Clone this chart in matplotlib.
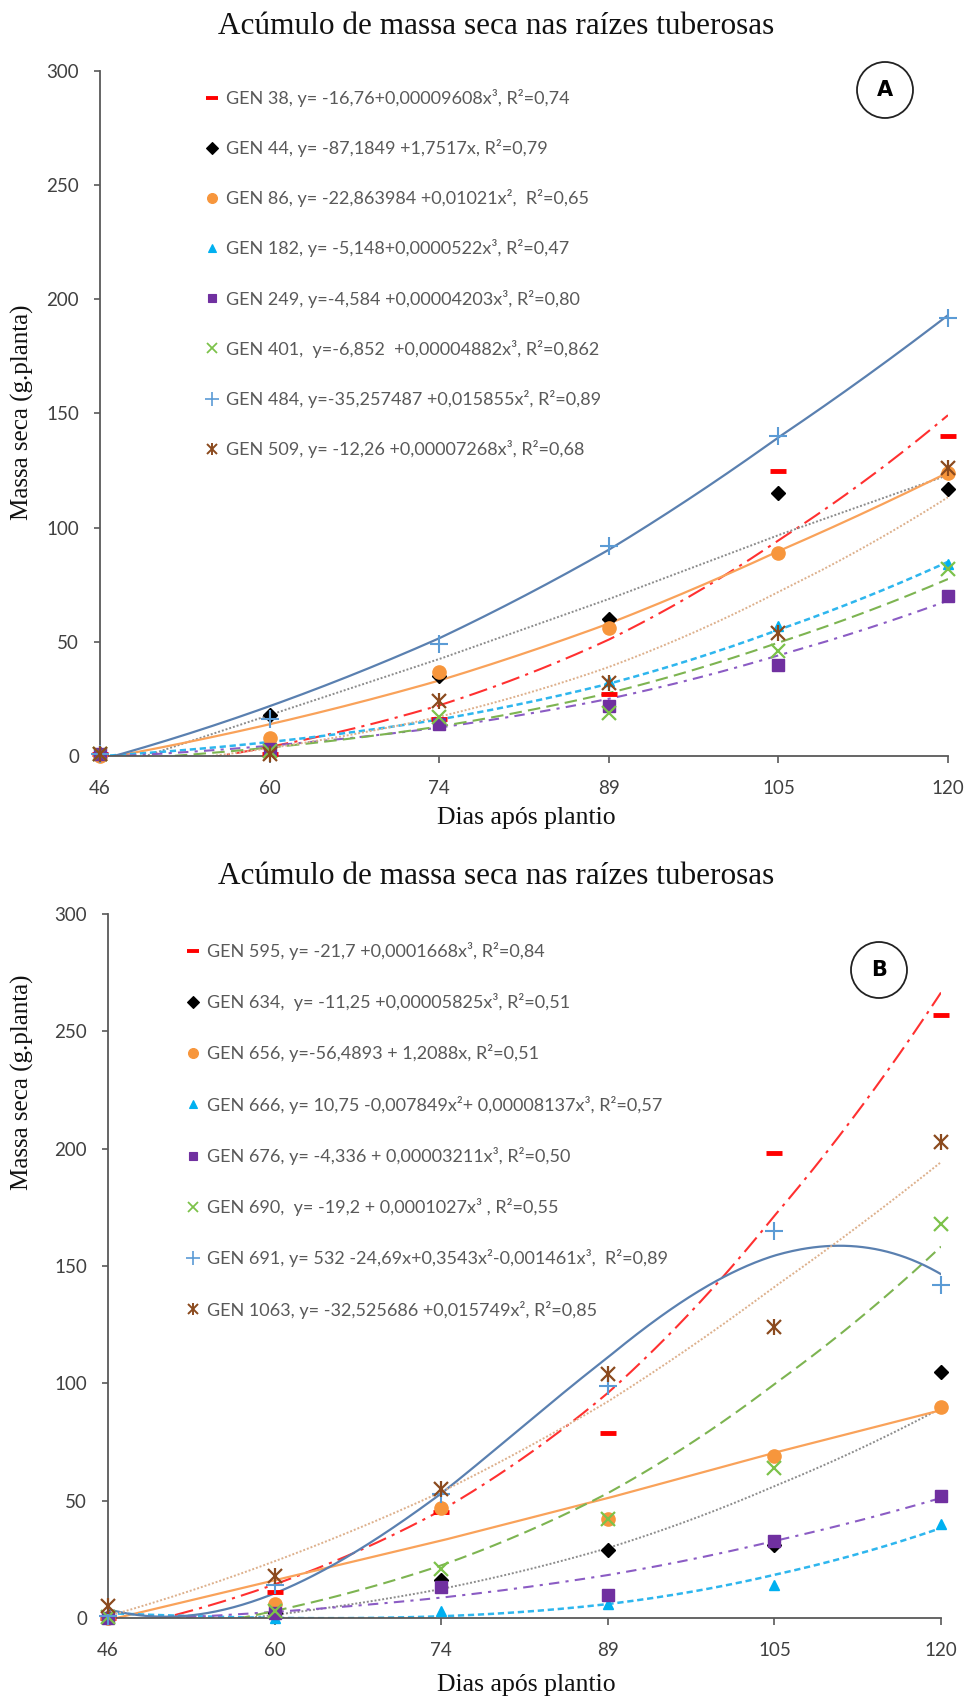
import numpy as np
import matplotlib
matplotlib.use("Agg")
import matplotlib.pyplot as plt
from matplotlib.lines import Line2D
from matplotlib.patches import Circle

plt.rcParams["font.family"] = ["Lato", "DejaVu Sans"]

# ---------------------------------------------------------------
# Data
# ---------------------------------------------------------------
days = [46, 60, 74, 89, 105, 120]
yticks = [0, 50, 100, 150, 200, 250, 300]
title = "Acúmulo de massa seca nas raízes tuberosas"

# Panel A: observed means (g/planta)
a_gen38 = [1, 1, 16, 27, 125, 140]
a_gen44 = [1, 18, 35, 60, 115, 117]
a_gen86 = [0, 8, 37, 56, 89, 124]
a_gen182 = [1.5, 3, 15, 33, 57, 84]
a_gen249 = [1, 3, 14, 22, 40, 70]
a_gen401 = [1, 2, 17, 19, 46, 82]
a_gen484 = [1, 16, 49, 92, 140, 192]
a_gen509 = [1, 1, 24, 32, 54, 126]

# Panel A: fitted polynomial coefficients [c0, c1, c2, c3] (x = days)
a_fit38 = [-16.76, 0, 0, 0.00009608]
a_fit44 = [-87.1849, 1.7517, 0, 0]
a_fit86 = [-22.863984, 0, 0.01021, 0]
a_fit182 = [-5.148, 0, 0, 0.0000522]
a_fit249 = [-4.584, 0, 0, 0.00004203]
a_fit401 = [-6.852, 0, 0, 0.00004882]
a_fit484 = [-35.257487, 0, 0.015855, 0]
a_fit509 = [-12.26, 0, 0, 0.00007268]

a_labels = [
    "GEN 38, y= -16,76+0,00009608x³, R²=0,74",
    "GEN 44, y= -87,1849 +1,7517x, R²=0,79",
    "GEN 86, y= -22,863984 +0,01021x²,  R²=0,65",
    "GEN 182, y= -5,148+0,0000522x³, R²=0,47",
    "GEN 249, y=-4,584 +0,00004203x³, R²=0,80",
    "GEN 401,  y=-6,852  +0,00004882x³, R²=0,862",
    "GEN 484, y=-35,257487 +0,015855x², R²=0,89",
    "GEN 509, y= -12,26 +0,00007268x³, R²=0,68",
]

# Panel B: observed means (g/planta)
b_gen595 = [0, 11, 45, 79, 198, 257]
b_gen634 = [0.5, 2, 16, 29, 31, 105]
b_gen656 = [0, 6, 47, 42, 69, 90]
b_gen666 = [0, 0, 3, 6, 14, 40]
b_gen676 = [0, 2, 13, 10, 33, 52]
b_gen690 = [0.5, 3, 21, 42, 64, 168]
b_gen691 = [1, 14, 53, 99, 165, 142]
b_gen1063 = [5, 18, 55, 104, 124, 203]

# Panel B: fitted polynomial coefficients [c0, c1, c2, c3]
b_fit595 = [-21.7, 0, 0, 0.0001668]
b_fit634 = [-11.25, 0, 0, 0.00005825]
b_fit656 = [-56.4893, 1.2088, 0, 0]
b_fit666 = [10.75, 0, -0.007849, 0.00008137]
b_fit676 = [-4.336, 0, 0, 0.00003211]
b_fit690 = [-19.2, 0, 0, 0.0001027]
b_fit691 = [532, -24.69, 0.3543, -0.001461]
b_fit1063 = [-32.525686, 0, 0.015749, 0]

b_labels = [
    "GEN 595, y= -21,7 +0,0001668x³, R²=0,84",
    "GEN 634,  y= -11,25 +0,00005825x³, R²=0,51",
    "GEN 656, y=-56,4893 + 1,2088x, R²=0,51",
    "GEN 666, y= 10,75 -0,007849x²+ 0,00008137x³, R²=0,57",
    "GEN 676, y= -4,336 + 0,00003211x³, R²=0,50",
    "GEN 690,  y= -19,2 + 0,0001027x³ , R²=0,55",
    "GEN 691, y= 532 -24,69x+0,3543x²-0,001461x³,  R²=0,89",
    "GEN 1063, y= -32,525686 +0,015749x², R²=0,85",
]

# ---------------------------------------------------------------
# Styles (same order in both panels)
# ---------------------------------------------------------------
MARKERS = [
    dict(marker="_", color="#FF0000", ms=11, mew=3.5),
    dict(marker="D", color="black", ms=7.5),
    dict(marker="o", color="#F7963C", ms=9.5),
    dict(marker="^", color="#00B0F0", ms=7.5),
    dict(marker="s", color="#7030A0", ms=8.5),
    dict(marker="x", color="#7CC24A", ms=9.5, mew=1.6),
    dict(marker="+", color="#5B9BD5", ms=13, mew=1.5),
    None,  # asterisk: drawn as 'x' + '|'
]
STAR_COLOR = "#8B4A1E"
LINES = [
    dict(color="#FF3030", ls=(0, (9, 3, 1.5, 3)), lw=1.5),
    dict(color="#8C8C8C", ls=(0, (1, 1)), lw=1.4),
    dict(color="#F9A25A", ls="-", lw=1.6),
    dict(color="#2EB6EE", ls=(0, (2.5, 1.5)), lw=1.8),
    dict(color="#8B5CC4", ls=(0, (5, 3, 1.5, 3)), lw=1.5),
    dict(color="#7DB451", ls=(0, (6, 3)), lw=1.5),
    dict(color="#5A80B0", ls="-", lw=1.6),
    dict(color="#DDB08C", ls=(0, (1, 1)), lw=1.4),
]
AXIS_C = "#595959"
TEXT_C = "#404040"
LEG_C = "#595959"
SERIF = "Liberation Serif"

pos = np.arange(len(days), dtype=float)


def fwd(x):
    x = np.asarray(x, dtype=float)
    y = np.interp(x, days, pos)
    lo = x < days[0]
    hi = x > days[-1]
    y = np.where(lo, (x - days[0]) / (days[1] - days[0]), y)
    y = np.where(hi, pos[-1] + (x - days[-1]) / (days[-1] - days[-2]), y)
    return y


def inv(p):
    p = np.asarray(p, dtype=float)
    x = np.interp(p, pos, days)
    x = np.where(p < 0, days[0] + p * (days[1] - days[0]), x)
    x = np.where(p > pos[-1], days[-1] + (p - pos[-1]) * (days[-1] - days[-2]), x)
    return x


def fx(px):
    return px / 970


def fy(py):
    return 1 - py / 1700


def draw_panel(ax, series, fits, labels, leg_xy, letter, circ_xy, spacing):
    ax.set_xscale("function", functions=(fwd, inv))
    grid = np.linspace(days[0], days[-1], 400)
    handles = []
    for i, (vals, coef) in enumerate(zip(series, fits)):
        curve = np.polyval(coef[::-1], grid)
        ax.plot(grid, curve, zorder=2, **LINES[i])
        if MARKERS[i] is not None:
            m = MARKERS[i]
            ax.plot(days, vals, ls="none", marker=m["marker"], color=m["color"],
                    ms=m["ms"], mew=m.get("mew", 1.0), zorder=4, clip_on=False)
            handles.append(Line2D([], [], ls="none", marker=m["marker"],
                                  color=m["color"], ms=m["ms"] * 0.75,
                                  mew=m.get("mew", 1.0) * 0.8))
        else:
            ax.plot(days, vals, ls="none", marker="x", color=STAR_COLOR,
                    ms=9.5, mew=1.6, zorder=4, clip_on=False)
            ax.plot(days, vals, ls="none", marker="|", color=STAR_COLOR,
                    ms=11.5, mew=1.6, zorder=4, clip_on=False)
            handles.append((
                Line2D([], [], ls="none", marker="x", color=STAR_COLOR, ms=6.5, mew=1.4),
                Line2D([], [], ls="none", marker="|", color=STAR_COLOR, ms=8, mew=1.4),
            ))

    ax.set_xlim(days[0], days[-1])
    ax.set_ylim(0, 300)
    ax.set_xticks(days)
    ax.set_xticklabels([str(d) for d in days])
    ax.set_yticks(yticks)
    ax.xaxis.set_minor_locator(matplotlib.ticker.NullLocator())
    for side in ("top", "right"):
        ax.spines[side].set_visible(False)
    for side in ("left", "bottom"):
        ax.spines[side].set_color(AXIS_C)
        ax.spines[side].set_linewidth(1.3)
    ax.tick_params(axis="both", colors=AXIS_C, labelcolor=TEXT_C,
                   labelsize=13.5, width=1.2)
    ax.tick_params(axis="y", length=4, pad=11)
    ax.tick_params(axis="x", length=5, pad=12)

    fig = ax.figure
    leg = ax.legend(handles, labels, loc="upper left",
                    bbox_to_anchor=(fx(leg_xy[0]), fy(leg_xy[1])),
                    bbox_transform=fig.transFigure, frameon=False,
                    borderpad=0, borderaxespad=0, handlelength=0.9,
                    handletextpad=0.3, labelspacing=spacing, fontsize=13,
                    labelcolor=LEG_C)
    leg.set_zorder(5)

    circ = Circle((circ_xy[0] / 100, (1700 - circ_xy[1]) / 100), 0.28,
                  transform=fig.dpi_scale_trans, fill=False,
                  edgecolor="#222222", lw=1.3)
    fig.add_artist(circ)
    fig.text(fx(circ_xy[0]), fy(circ_xy[1]), letter, ha="center", va="center",
             fontsize=15, fontweight="bold", color="black",
             family=["DejaVu Sans"])


fig = plt.figure(figsize=(9.7, 17), dpi=100)
fig.patch.set_facecolor("white")

axA = fig.add_axes([fx(100), fy(756), fx(948) - fx(100), fy(71) - fy(756)])
axB = fig.add_axes([fx(108), fy(1618), fx(941) - fx(108), fy(914) - fy(1618)])

draw_panel(
    axA,
    [a_gen38, a_gen44, a_gen86, a_gen182, a_gen249, a_gen401, a_gen484, a_gen509],
    [a_fit38, a_fit44, a_fit86, a_fit182, a_fit249, a_fit401, a_fit484, a_fit509],
    a_labels, (204, 89), "A", (885, 90), 1.78,
)
draw_panel(
    axB,
    [b_gen595, b_gen634, b_gen656, b_gen666, b_gen676, b_gen690, b_gen691, b_gen1063],
    [b_fit595, b_fit634, b_fit656, b_fit666, b_fit676, b_fit690, b_fit691, b_fit1063],
    b_labels, (185, 942), "B", (879, 970), 1.84,
)

# titles and axis labels
for ty in (27, 876):
    fig.text(fx(496), fy(ty), title, ha="center", va="center",
             fontsize=22.5, family=SERIF, color="#111111")
fig.text(fx(526), fy(818), "Dias após plantio", ha="center", va="center",
         fontsize=18.5, family=SERIF, color="#111111")
fig.text(fx(526), fy(1685), "Dias após plantio", ha="center", va="center",
         fontsize=18.5, family=SERIF, color="#111111")
fig.text(fx(22), fy(412), "Massa seca (g.planta)", ha="center", va="center",
         rotation=90, fontsize=18, family=SERIF, color="#111111")
fig.text(fx(22), fy(1082), "Massa seca (g.planta)", ha="center", va="center",
         rotation=90, fontsize=18, family=SERIF, color="#111111")

fig.savefig("out.png", dpi=100, facecolor="white")
